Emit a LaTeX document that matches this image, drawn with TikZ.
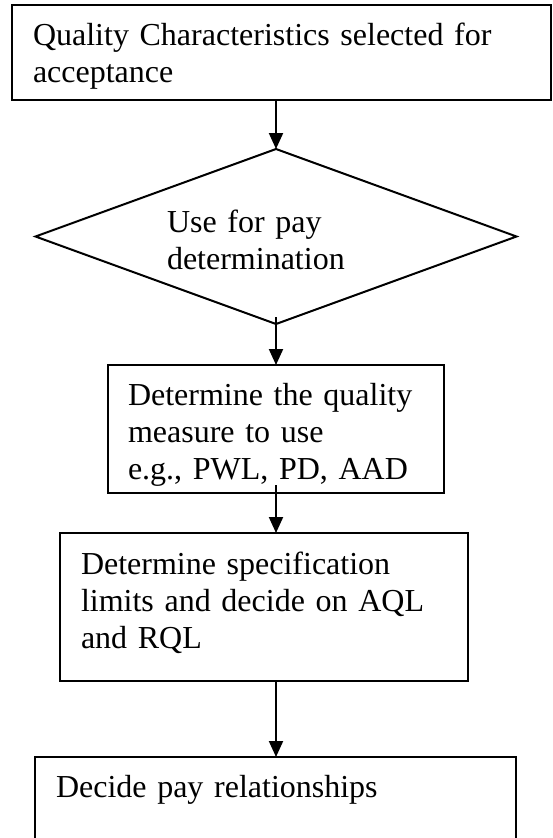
\documentclass[tikz,border=0pt]{standalone}
\usepackage{fontspec}
\setmainfont{Liberation Serif}
\usetikzlibrary{shapes.geometric,arrows.meta}
\begin{document}
\begin{tikzpicture}[x=1pt,y=-1pt,
  every node/.style={font=\fontsize{32}{37}\selectfont},
  flowbox/.style={draw, line width=2pt, rectangle, anchor=north west, outer sep=0pt, inner ysep=0pt, align=left},
  decision/.style={draw, line width=2pt, diamond, aspect=2.75, inner sep=0pt, outer sep=0pt, align=left, minimum width=481pt, minimum height=175pt},
  flowarrow/.style={line width=2pt, -{Triangle[width=14pt,length=16pt]}}
]
\useasboundingbox (0,0) rectangle (552,838);
\clip (0,0) rectangle (552,838);
\node[flowbox, inner xsep=21pt, text width=497pt, text height=40pt, text depth=55pt] (q) at (12,5)
  {Quality Characteristics selected for\\acceptance};
\node[decision, text width=218pt, text height=38pt, text depth=47pt] (d) at (276,236.5)
  {Use for pay\\determination};
\node[flowbox, inner xsep=20pt, text width=296pt, text height=40pt, text depth=88pt] (b2) at (108,365)
  {Determine the quality\\measure to use\\e.g., PWL, PD, AAD};
\node[flowbox, inner xsep=21pt, text width=366pt, text height=41pt, text depth=107pt] (b3) at (60,533)
  {Determine specification\\limits and decide on AQL\\and RQL};
\node[flowbox, inner xsep=21pt, text width=439pt, text height=40pt, text depth=73pt] (b4) at (35,757)
  {Decide pay relationships};
\draw[flowarrow] (d.north |- q.south) -- (d.north);
\draw[flowarrow] ([yshift=7pt]d.south) -- (b2.north);
\draw[flowarrow] ([yshift=8pt]b2.south) -- (b2.south |- b3.north);
\draw[flowarrow] (d.south |- b3.south) -- (d.south |- b4.north);
\end{tikzpicture}
\end{document}
